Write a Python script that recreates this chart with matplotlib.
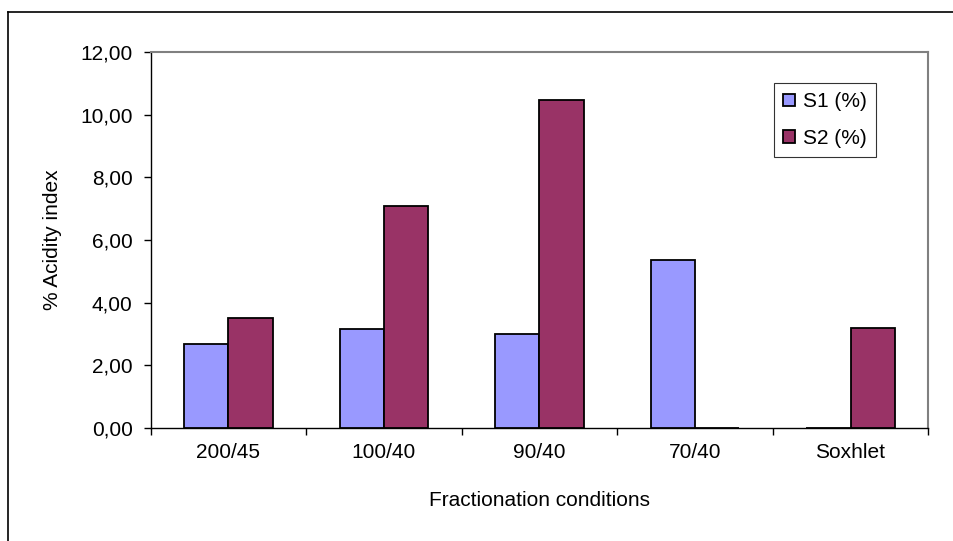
import numpy as np
import matplotlib
matplotlib.use('Agg')
import matplotlib.pyplot as plt
from matplotlib.lines import Line2D
from matplotlib.ticker import FuncFormatter, FixedLocator

plt.rcParams['font.family'] = ['Liberation Sans', 'DejaVu Sans']

# acidity index per fractionation condition
conditions = ['200/45', '100/40', '90/40', '70/40', 'Soxhlet']
s1_values = [2.69, 3.15, 3.00, 5.36, 0.0]
s2_values = [3.51, 7.08, 10.47, 0.0, 3.20]
series_names = ['S1 (%)', 'S2 (%)']
y_ticks = [0, 2, 4, 6, 8, 10, 12]

FS = 15


def main():
	dpi = 100
	fig = plt.figure(figsize=(954 / dpi, 541 / dpi), dpi=dpi)
	ax = fig.add_axes([150.7 / 954, 1 - 428 / 541, (928.3 - 150.7) / 954, (428 - 52) / 541])

	x = np.arange(len(conditions))
	w = 1 / 3.5
	ax.bar(x - w / 2, s1_values, w, color='#9999FF', edgecolor='black', linewidth=1.3,
		label=series_names[0], zorder=3)
	ax.bar(x + w / 2, s2_values, w, color='#993366', edgecolor='black', linewidth=1.3,
		label=series_names[1], zorder=3)

	ax.set_xlim(-0.5, len(conditions) - 0.5)
	ax.set_ylim(0, 12)
	ax.set_yticks(y_ticks)
	ax.yaxis.set_major_formatter(FuncFormatter(lambda v, _: f'{v:.2f}'.replace('.', ',')))

	# category labels centred, tick marks on the boundaries
	ax.set_xticks(x)
	ax.set_xticklabels(conditions)
	ax.xaxis.set_minor_locator(FixedLocator(np.arange(-0.5, len(conditions), 1.0)))
	ax.tick_params(axis='x', which='major', length=0, pad=11, labelsize=FS)
	ax.tick_params(axis='x', which='minor', length=5, width=1, direction='out')
	ax.tick_params(axis='y', length=5, width=1, direction='out', pad=8, labelsize=FS)

	for side in ('top', 'right'):
		ax.spines[side].set_color('#808080')
		ax.spines[side].set_linewidth(1.5)
	for side in ('left', 'bottom'):
		ax.spines[side].set_color('black')
		ax.spines[side].set_linewidth(1)

	ax.set_xlabel('Fractionation conditions', fontsize=FS, labelpad=21)
	ax.set_ylabel('% Acidity index', fontsize=FS, labelpad=13)

	leg = ax.legend(loc='upper left', bbox_to_anchor=(774 / 954, 1 - 83 / 541),
		bbox_transform=fig.transFigure, fontsize=FS, frameon=True, fancybox=False,
		handlelength=0.55, handleheight=0.55, handletextpad=0.4, labelspacing=0.85,
		borderpad=0.45, borderaxespad=0)
	leg.get_frame().set_edgecolor('black')
	leg.get_frame().set_linewidth(0.8)

	# chart area border, running off the right and bottom edges
	fig.add_artist(Line2D([8.5 / 954, 8.5 / 954], [0, 1 - 12 / 541], color='black', lw=1.2))
	fig.add_artist(Line2D([8.5 / 954, 1], [1 - 12 / 541, 1 - 12 / 541], color='black', lw=1.2))

	fig.savefig('out.png', dpi=dpi)
	plt.close(fig)


if __name__ == '__main__':
	main()
